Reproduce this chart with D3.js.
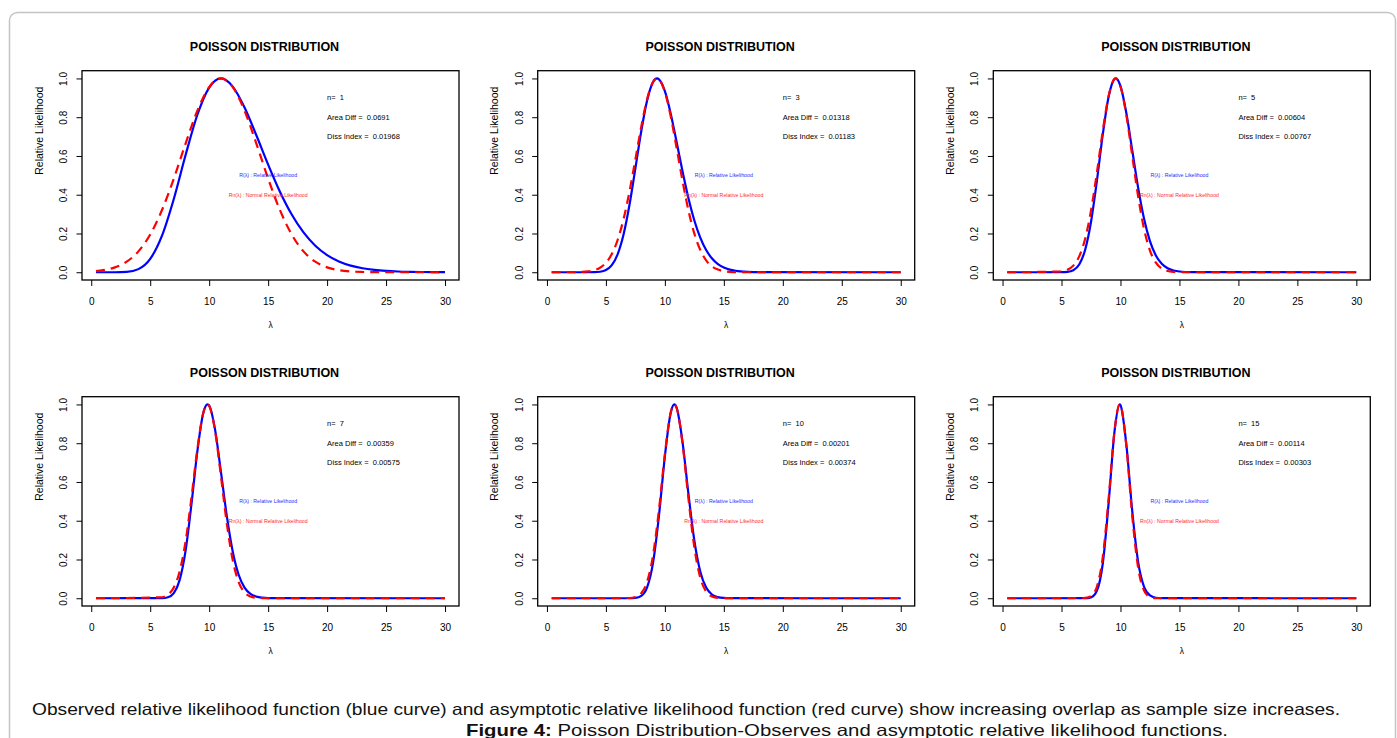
<!DOCTYPE html>
<html><head><meta charset="utf-8">
<script src="https://cdn.jsdelivr.net/npm/d3@7"></script>
<style>
body{margin:0;background:#fff;}
svg{display:block;}
text{font-family:"Liberation Sans",Arial,Helvetica,sans-serif;fill:#000;}
</style>
</head><body>
<svg id="chart" width="1397" height="738"></svg>
<script>
// ---------- data ----------
const sampleSizes = [1, 3, 5, 7, 10, 15];
const areaDiff  = ["0.0691", "0.01318", "0.00604", "0.00359", "0.00201", "0.00114"];
const dissIndex = ["0.01968", "0.01183", "0.00767", "0.00575", "0.00374", "0.00303"];
const xTicks = [0, 5, 10, 15, 20, 25, 30];
const yTicks = [0, 0.2, 0.4, 0.6, 0.8, 1.0];
const panelTitle = "POISSON DISTRIBUTION";
const yLabel = "Relative Likelihood";
const xLabel = "λ";
const blueLegend = "R(λ) : Relative Likelihood";
const redLegend = "Rn(λ) : Normal Relative Likelihood";

// panel n = 1
const lambda1 = [0.4,1,2,3,4,5,6,7,8,9,10,11,12,13,14,15,16,17,18,19,20,21,22,23,24,25,26,27,28,29,30];
const blue1 = [0,0,0.0001,0.0019,0.0161,0.0690,0.1888,0.3783,0.6047,0.8127,0.9528,1,0.9580,0.8501,0.7067,0.5553,0.4154,0.2977,0.2054,0.1370,0.0886,0.0557,0.0342,0.0205,0.0121,0.0070,0.0039,0.0022,0.0012,0.0007,0.0004];
const red1  = [0.0061,0.0106,0.0252,0.0545,0.1078,0.1947,0.3210,0.4832,0.6642,0.8338,0.9556,1,0.9556,0.8338,0.6642,0.4832,0.3210,0.1947,0.1078,0.0545,0.0252,0.0106,0.0041,0.0014,0.0005,0.0001,0,0,0,0,0];
// panel n = 3
const lambda3 = [0.4,3,3.5,4,4.5,5,5.5,6,6.5,7,7.5,8,8.5,9,9.333,9.5,10,10.5,11,11.5,12,12.5,13,13.5,14,14.5,15,15.5,16,17,18,30];
const blue3 = [0,0,0,0.0004,0.0027,0.0114,0.0366,0.0934,0.1959,0.3482,0.5363,0.7290,0.8882,0.9818,1,0.9956,0.9343,0.8172,0.6708,0.5196,0.3817,0.2671,0.1787,0.1147,0.0709,0.0422,0.0243,0.0136,0.0074,0.0020,0.0005,0];
const red3  = [0,0.0016,0.0042,0.0103,0.0234,0.0489,0.0943,0.1677,0.2752,0.4169,0.5827,0.7515,0.8944,0.9823,1,0.9955,0.9311,0.8035,0.6399,0.4703,0.3189,0.1995,0.1153,0.0614,0.0302,0.0137,0.0057,0.0022,0.0008,0,0,0];
// panel n = 5
const lambda5 = [0.4,5,5.5,6,6.5,7,7.5,8,8.5,9,9.5,9.6,10,10.5,11,11.5,12,12.5,13,13.5,14,14.5,15,16,30];
const blue5 = [0,0.0002,0.0020,0.0105,0.0400,0.1152,0.2595,0.4719,0.7111,0.9067,0.9974,1,0.9606,0.8202,0.6280,0.4353,0.2756,0.1605,0.0866,0.0435,0.0204,0.0091,0.0038,0.0006,0];
const red5  = [0,0.0040,0.0126,0.0342,0.0819,0.1720,0.3171,0.5134,0.7297,0.9105,0.9974,1,0.9592,0.8098,0.6003,0.3906,0.2231,0.1119,0.0493,0.0190,0.0065,0.0019,0.0005,0,0];
// panel n = 7
const lambda7 = [0.4,6,6.5,7,7.5,8,8.5,9,9.5,9.857,10,10.5,11,11.5,12,12.5,13,13.5,14,14.5,15,30];
const blue7 = [0,0.0007,0.0054,0.0269,0.0948,0.2459,0.4868,0.7588,0.9556,1,0.9943,0.8701,0.6510,0.4222,0.2404,0.1214,0.0549,0.0224,0.0083,0.0028,0.0009,0];
const red7  = [0,0.0051,0.0183,0.0551,0.1391,0.2939,0.5200,0.7704,0.9557,1,0.9928,0.8635,0.6289,0.3835,0.1958,0.0837,0.0300,0.0090,0.0023,0.0005,0,0];
// panel n = 10
const lambda10 = [0.4,7,7.5,8,8.5,9,9.5,10,10.5,10.8,11,11.5,12,12.5,13,13.5,14,14.5,15,15.5,30];
const blue10 = [0,0.0001,0.0017,0.0121,0.0570,0.1842,0.4266,0.7320,0.9585,1,0.9820,0.8044,0.5374,0.2973,0.1385,0.0550,0.0188,0.0056,0.0015,0.0003,0];
const red10  = [0,0.0013,0.0065,0.0265,0.0864,0.2231,0.4573,0.7436,0.9592,1,0.9817,0.7970,0.5134,0.2624,0.1064,0.0342,0.0087,0.0018,0.0003,0,0];
// panel n = 15
const lambda15 = [0.4,7,7.5,8,8.5,9,9.5,9.933,10,10.5,11,11.5,12,12.5,13,13.5,30];
const blue15 = [0,0.0003,0.0047,0.0387,0.1793,0.4951,0.8634,1,0.9968,0.7918,0.4484,0.1866,0.0585,0.0142,0.0027,0.0004,0];
const red15  = [0,0.0015,0.0114,0.0595,0.2121,0.5181,0.8678,1,0.9966,0.7847,0.4235,0.1567,0.0397,0.0069,0.0008,0,0];

const captionText = "Observed relative likelihood function (blue curve) and asymptotic relative likelihood function (red curve) show increasing overlap as sample size increases.";
const figureLabel = "Figure 4:";
const figureText = " Poisson Distribution-Observes and asymptotic relative likelihood functions.";

// ---------- build ----------
const panels = [
  {lam: lambda1, blue: blue1, red: red1},
  {lam: lambda3, blue: blue3, red: red3},
  {lam: lambda5, blue: blue5, red: red5},
  {lam: lambda7, blue: blue7, red: red7},
  {lam: lambda10, blue: blue10, red: red10},
  {lam: lambda15, blue: blue15, red: red15}
];

const svg = d3.select("#chart");
svg.append("rect").attr("width", 1397).attr("height", 738).attr("fill", "#fff");
svg.append("rect")
  .attr("x", 9.5).attr("y", 12.5).attr("width", 1386).attr("height", 760)
  .attr("rx", 8).attr("fill", "none").attr("stroke", "#c4c4c4").attr("stroke-width", 1.5);

const colLeft = [82, 537.7, 993.3];
const rowTop = [70.7, 396.7];
const W = 377, H = 209.3;

panels.forEach((p, i) => {
  const left = colLeft[i % 3], top = rowTop[Math.floor(i / 3)];
  const lo = d3.min(p.lam), hi = d3.max(p.lam), pad = (hi - lo) * 0.04;
  const x = d3.scaleLinear().domain([lo - pad, hi + pad]).range([left, left + W]);
  const y = d3.scaleLinear().domain([-0.04, 1.04]).range([top + H, top]);
  const g = svg.append("g");

  // x axis
  const xa = g.append("g").attr("transform", `translate(0,${top + H})`)
    .call(d3.axisBottom(x).tickValues(xTicks).tickSize(6).tickFormat(d3.format("d")));
  xa.select(".domain").remove();
  xa.selectAll(".tick line").attr("stroke", "#000").attr("stroke-width", 1);
  xa.selectAll(".tick text").attr("y", 21).attr("dy", "0.35em")
    .attr("font-size", 10).attr("fill", "#000")
    .attr("font-family", '"Liberation Sans",Arial,sans-serif');

  // y axis
  const ya = g.append("g").attr("transform", `translate(${left},0)`)
    .call(d3.axisLeft(y).tickValues(yTicks).tickSize(5.5).tickFormat(d3.format(".1f")));
  ya.select(".domain").remove();
  ya.selectAll(".tick line").attr("stroke", "#000").attr("stroke-width", 1);
  ya.selectAll(".tick text")
    .attr("x", 0).attr("y", 0).attr("dy", null).attr("dx", null)
    .attr("transform", "translate(-18.7,0) rotate(-90)")
    .attr("text-anchor", "middle").attr("dominant-baseline", "central")
    .attr("font-size", 10).attr("fill", "#000")
    .attr("font-family", '"Liberation Sans",Arial,sans-serif');

  // curves
  const pts = (vals) => p.lam.map((l, k) => [l, vals[k]]);
  const line = d3.line().x(d => x(d[0])).y(d => y(d[1])).curve(d3.curveMonotoneX);
  g.append("path").attr("d", line(pts(p.blue)))
    .attr("fill", "none").attr("stroke", "#0000ff").attr("stroke-width", 2.2)
    .attr("stroke-linejoin", "round");
  g.append("path").attr("d", line(pts(p.red)))
    .attr("fill", "none").attr("stroke", "#ff0000").attr("stroke-width", 2.2)
    .attr("stroke-dasharray", "9,6");

  // box
  g.append("rect").attr("x", left).attr("y", top).attr("width", W).attr("height", H)
    .attr("fill", "none").attr("stroke", "#000").attr("stroke-width", 1.3);

  // title
  g.append("text").attr("x", left + W / 2 - 6).attr("y", top - 24)
    .attr("text-anchor", "middle").attr("dominant-baseline", "central")
    .attr("font-size", 12.5).attr("font-weight", "bold").text(panelTitle);

  // y label
  g.append("text").attr("transform", `translate(${left - 43.5},${top + 60}) rotate(-90)`)
    .attr("text-anchor", "middle").attr("dominant-baseline", "central")
    .attr("font-size", 10.5).text(yLabel);

  // x label
  g.append("text").attr("x", left + W / 2).attr("y", top + H + 45)
    .attr("text-anchor", "middle").attr("dominant-baseline", "central")
    .attr("font-size", 8.5).text(xLabel);

  // annotations
  const ann = [["n=  " + sampleSizes[i], 0.9], ["Area Diff =  " + areaDiff[i], 0.8], ["Diss Index =  " + dissIndex[i], 0.7]];
  ann.forEach(([t, v]) => {
    g.append("text").attr("x", x(20)).attr("y", y(v))
      .attr("dominant-baseline", "central").attr("font-size", 7.5)
      .style("white-space", "pre").text(t);
  });

  // legend texts
  g.append("text").attr("x", x(15)).attr("y", y(0.5))
    .attr("text-anchor", "middle").attr("dominant-baseline", "central")
    .attr("font-size", 5.3).attr("textLength", 58).attr("lengthAdjust", "spacingAndGlyphs")
    .style("fill", "#2a2aff").text(blueLegend);
  g.append("text").attr("x", x(15)).attr("y", y(0.4))
    .attr("text-anchor", "middle").attr("dominant-baseline", "central")
    .attr("font-size", 5.3).attr("textLength", 79).attr("lengthAdjust", "spacingAndGlyphs")
    .style("fill", "#ff2a2a").text(redLegend);
});

// caption
svg.append("text").attr("x", 32).attr("y", 709)
  .attr("dominant-baseline", "central").attr("font-size", 16.5)
  .attr("textLength", 1308).attr("lengthAdjust", "spacingAndGlyphs")
  .style("fill", "#111").text(captionText);
const cap2 = svg.append("text").attr("x", 466).attr("y", 730)
  .attr("dominant-baseline", "central").attr("font-size", 16.5)
  .attr("textLength", 762).attr("lengthAdjust", "spacingAndGlyphs").style("fill", "#111");
cap2.append("tspan").attr("font-weight", "bold").text(figureLabel);
cap2.append("tspan").style("white-space", "pre").text(figureText);
</script>
</body></html>
